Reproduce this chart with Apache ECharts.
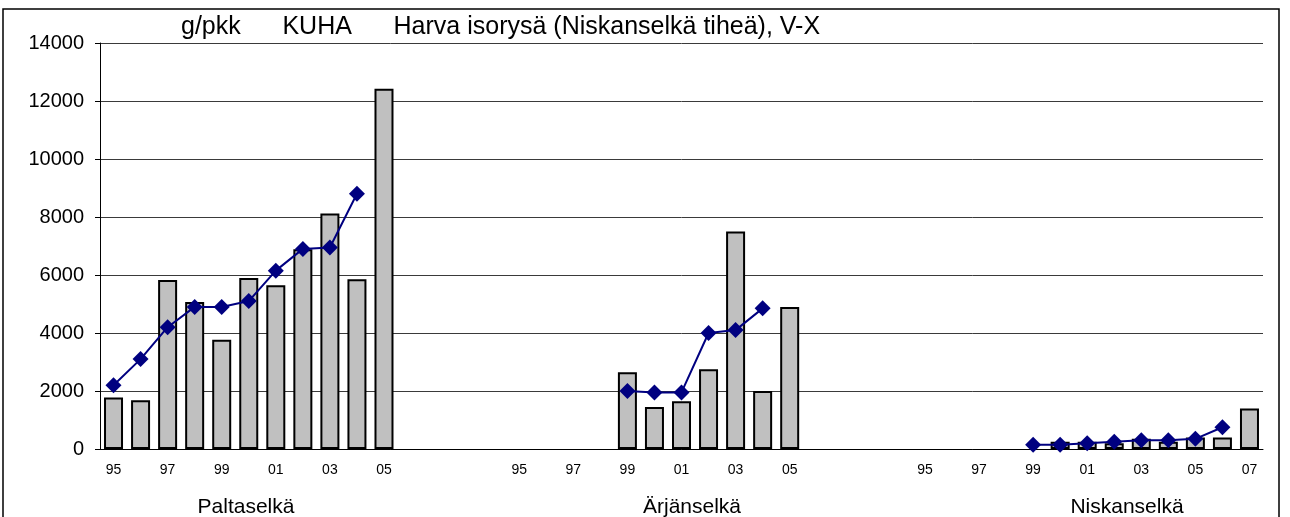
<!DOCTYPE html>
<html>
<head>
<meta charset="utf-8">
<title>KUHA g/pkk</title>
<script src="https://cdn.jsdelivr.net/npm/echarts@6/dist/echarts.min.js"></script>
<style>
  html, body { margin: 0; padding: 0; background: #fff; }
  #main { width: 1290px; height: 517px; }
</style>
</head>
<body>
<div id="main"></div>
<script>
// years shown in each lake group, two empty slots between groups
var years = ['95', '96', '97', '98', '99', '00', '01', '02', '03', '04', '05', '06', '07'];
var groupNames = ['Paltaselkä', 'Ärjänselkä', 'Niskanselkä'];

// tick labels (every other year), per group
var paltaTicks = ['95', '', '97', '', '99', '', '01', '', '03', '', '05', '', ''];
var arjanTicks = ['95', '', '97', '', '99', '', '01', '', '03', '', '05', '', ''];
var niskaTicks = ['95', '', '97', '', '99', '', '01', '', '03', '', '05', '', '07'];

// bars: g/pkk per year
var paltaBars = [1780, 1680, 5830, 5070, 3770, 5900, 5650, 6890, 8120, 5850, 12420, null, null];
var arjanBars = [null, null, null, null, 2650, 1450, 1650, 2750, 7500, 2000, 4900, null, null];
var niskaBars = [null, null, null, null, null, 250, 250, 200, 350, 250, 400, 400, 1400];

// line: running mean
var paltaLine = [2200, 3100, 4200, 4900, 4900, 5100, 6150, 6900, 6950, 8800, null, null, null];
var arjanLine = [null, null, null, null, 2000, 1950, 1950, 4000, 4100, 4850, null, null, null];
var niskaLine = [null, null, null, null, 150, 150, 200, 250, 300, 300, 350, 750, null];

var gap = [null, null];
var categories = [], tickLabels = [];
[paltaTicks, arjanTicks, niskaTicks].forEach(function (t, g) {
  years.forEach(function (y, i) { categories.push(groupNames[g] + ' ' + y); tickLabels.push(t[i]); });
  if (g < 2) { categories.push('gap' + g + 'a', 'gap' + g + 'b'); tickLabels.push('', ''); }
});
var barData = paltaBars.concat(gap, arjanBars, gap, niskaBars);
var lineData = paltaLine.concat(gap, arjanLine, gap, niskaLine);

var font = "'Liberation Sans', Arial, sans-serif";
var myChart = echarts.init(document.getElementById('main'));

var option = {
  animation: false,
  title: {
    text: 'g/pkk      KUHA      Harva isorysä (Niskanselkä tiheä), V-X',
    left: 181,
    top: 15,
    padding: 0,
    textStyle: { fontFamily: font, fontSize: 25, fontWeight: 'normal', color: '#000' }
  },
  grid: { left: 100, right: 27, top: 43, bottom: 68 },
  xAxis: {
    type: 'category',
    data: categories,
    axisLine: { lineStyle: { color: '#000', width: 1 } },
    axisTick: { show: false },
    axisLabel: {
      interval: 0,
      margin: 14,
      fontFamily: font,
      fontSize: 14,
      color: '#000',
      formatter: function (v, i) { return tickLabels[i]; }
    }
  },
  yAxis: {
    type: 'value',
    min: 0,
    max: 14000,
    interval: 2000,
    axisLine: { show: true, lineStyle: { color: '#000', width: 1 } },
    axisTick: { show: true, length: 5, lineStyle: { color: '#000' } },
    axisLabel: {
      margin: 16, fontFamily: font, fontSize: 20, color: '#000',
      formatter: function (v) { return String(v); }
    },
    splitLine: { lineStyle: { color: '#3a3a3a', width: 1 } }
  },
  series: [
    {
      name: 'g/pkk',
      type: 'bar',
      data: barData,
      barWidth: 19,
      itemStyle: { color: '#C0C0C0', borderColor: '#000', borderWidth: 2 }
    },
    {
      name: 'keskiarvo',
      type: 'line',
      data: lineData,
      connectNulls: false,
      symbol: 'diamond',
      symbolSize: 16,
      lineStyle: { color: '#000080', width: 2 },
      itemStyle: { color: '#000080' }
    }
  ],
  graphic: [
    {
      type: 'rect',
      shape: { x: 3, y: 9, width: 1276, height: 530 },
      style: { fill: 'none', stroke: '#000', lineWidth: 1.5 },
      silent: true
    },
    { type: 'text', x: 246, y: 507, style: { text: groupNames[0], font: '21px ' + font, fill: '#000', textAlign: 'center', textVerticalAlign: 'middle' } },
    { type: 'text', x: 692, y: 507, style: { text: groupNames[1], font: '21px ' + font, fill: '#000', textAlign: 'center', textVerticalAlign: 'middle' } },
    { type: 'text', x: 1127, y: 507, style: { text: groupNames[2], font: '21px ' + font, fill: '#000', textAlign: 'center', textVerticalAlign: 'middle' } }
  ]
};

myChart.setOption(option);
</script>
</body>
</html>
